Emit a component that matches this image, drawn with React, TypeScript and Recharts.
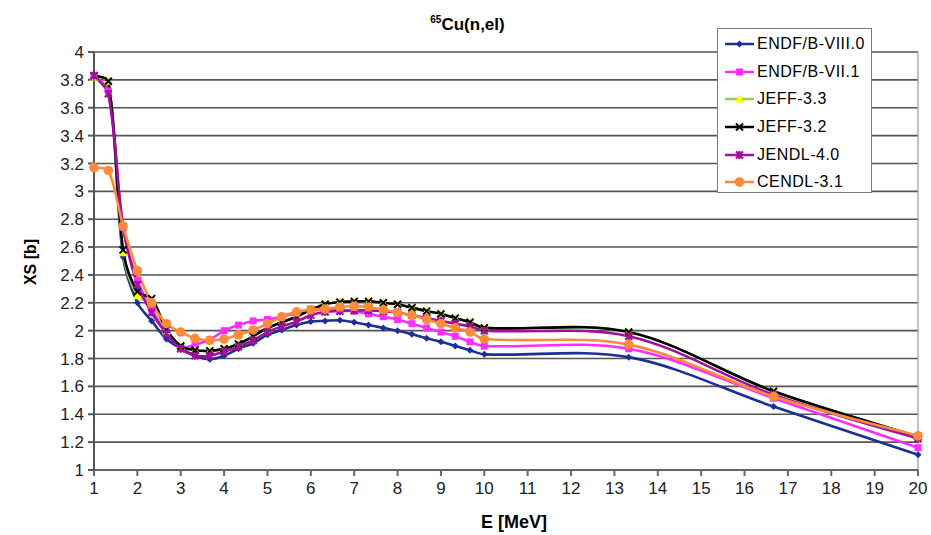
import React from 'react';
import { LineChart, Line, XAxis, YAxis, CartesianGrid, Legend, ReferenceLine } from 'recharts';

// incident energy [MeV]
const energies = [1, 1.33, 1.67, 2, 2.33, 2.67, 3, 3.33, 3.67, 4, 4.33, 4.67, 5, 5.33, 5.67, 6, 6.33, 6.67, 7, 7.33, 7.67, 8, 8.33, 8.67, 9, 9.33, 9.67, 10, 13.33, 16.67, 20];

// cross sections [b]
const endf80 = [3.83, 3.78, 2.53, 2.2, 2.07, 1.94, 1.875, 1.82, 1.795, 1.82, 1.87, 1.91, 1.97, 2.005, 2.04, 2.065, 2.07, 2.075, 2.06, 2.04, 2.02, 2.0, 1.975, 1.945, 1.92, 1.89, 1.86, 1.83, 1.81, 1.455, 1.11];
const endf71 = [3.83, 3.72, 2.74, 2.36, 2.15, 1.99, 1.88, 1.9, 1.935, 2.0, 2.04, 2.07, 2.08, 2.1, 2.125, 2.145, 2.15, 2.15, 2.14, 2.12, 2.1, 2.08, 2.05, 2.02, 1.99, 1.96, 1.92, 1.89, 1.87, 1.515, 1.16];
const jeff33 = [3.82, 3.79, 2.56, 2.25, 2.2, 2.0, 1.89, 1.86, 1.855, 1.87, 1.905, 1.96, 2.02, 2.06, 2.1, 2.15, 2.19, 2.205, 2.21, 2.21, 2.2, 2.19, 2.165, 2.14, 2.12, 2.09, 2.06, 2.02, 1.99, 1.565, 1.24];
const jeff32 = [3.83, 3.79, 2.58, 2.28, 2.23, 2.01, 1.89, 1.86, 1.855, 1.87, 1.905, 1.96, 2.02, 2.06, 2.1, 2.15, 2.19, 2.205, 2.21, 2.21, 2.2, 2.19, 2.165, 2.14, 2.12, 2.09, 2.06, 2.02, 1.99, 1.565, 1.24];
const jendl40 = [3.83, 3.7, 2.75, 2.33, 2.13, 1.98, 1.87, 1.82, 1.82, 1.85, 1.885, 1.93, 1.99, 2.03, 2.065, 2.11, 2.135, 2.14, 2.145, 2.145, 2.14, 2.13, 2.11, 2.09, 2.07, 2.05, 2.03, 2.0, 1.96, 1.54, 1.225];
const cendl31 = [3.17, 3.15, 2.75, 2.43, 2.2, 2.05, 1.99, 1.945, 1.93, 1.94, 1.97, 2.005, 2.05, 2.1, 2.135, 2.15, 2.155, 2.17, 2.175, 2.17, 2.15, 2.13, 2.11, 2.08, 2.05, 2.02, 1.99, 1.94, 1.9, 1.527, 1.245];

const xTicks = [1, 2, 3, 4, 5, 6, 7, 8, 9, 10, 11, 12, 13, 14, 15, 16, 17, 18, 19, 20];
const yTicks = [1, 1.2, 1.4, 1.6, 1.8, 2, 2.2, 2.4, 2.6, 2.8, 3, 3.2, 3.4, 3.6, 3.8, 4];

const data = energies.map((e, i) => ({
  e,
  endf80: endf80[i],
  endf71: endf71[i],
  jeff33: jeff33[i],
  jeff32: jeff32[i],
  jendl40: jendl40[i],
  cendl31: cendl31[i],
}));

const SERIES = [
  { key: 'endf80', name: 'ENDF/B-VIII.0', color: '#1b2f96', marker: 'diamond', fill: '#1b2f96' },
  { key: 'endf71', name: 'ENDF/B-VII.1', color: '#ff2cff', marker: 'square', fill: '#ff2cff' },
  { key: 'jeff33', name: 'JEFF-3.3', color: '#9bcf4a', marker: 'triangle', fill: '#ffff00' },
  { key: 'jeff32', name: 'JEFF-3.2', color: '#000000', marker: 'cross', fill: '#000000' },
  { key: 'jendl40', name: 'JENDL-4.0', color: '#a0109c', marker: 'star', fill: '#a0109c' },
  { key: 'cendl31', name: 'CENDL-3.1', color: '#fa8a3c', marker: 'circle', fill: '#fa8a3c' },
];

const TICK_FONT = '"Liberation Sans Narrow", "Liberation Sans", Arial, sans-serif';
const FONT = '"Liberation Sans", Arial, sans-serif';

// smoothed line like the spreadsheet one: chord-weighted Catmull-Rom as cubic Bezier
const excelCurve = (context: any) => {
  let pts: number[][] = [];
  const dist = (a: number[], b: number[]) => Math.hypot(b[0] - a[0], b[1] - a[1]) || 1e-6;
  return {
    areaStart() {},
    areaEnd() {},
    lineStart() {
      pts = [];
    },
    point(x: number, y: number) {
      pts.push([+x, +y]);
    },
    lineEnd() {
      const n = pts.length;
      if (!n) return;
      context.moveTo(pts[0][0], pts[0][1]);
      for (let i = 0; i < n - 1; i++) {
        const p0 = pts[i > 0 ? i - 1 : i];
        const p1 = pts[i];
        const p2 = pts[i + 1];
        const p3 = pts[i + 2 < n ? i + 2 : i + 1];
        const d0 = dist(p0, p1);
        const d1 = dist(p1, p2);
        const d2 = dist(p2, p3);
        const a = i > 0 ? d1 / (d0 + d1) / 3 : 1 / 6;
        const b = i + 2 < n ? d1 / (d1 + d2) / 3 : 1 / 6;
        context.bezierCurveTo(
          p1[0] + (p2[0] - p0[0]) * a,
          p1[1] + (p2[1] - p0[1]) * a,
          p2[0] - (p3[0] - p1[0]) * b,
          p2[1] - (p3[1] - p1[1]) * b,
          p2[0],
          p2[1]
        );
      }
    },
  };
};

const Marker = ({ kind, cx, cy, color, fill }: any) => {
  switch (kind) {
    case 'diamond':
      return <path d={`M${cx},${cy - 3.5}L${cx + 3.5},${cy}L${cx},${cy + 3.5}L${cx - 3.5},${cy}Z`} fill={fill} />;
    case 'square':
      return <rect x={cx - 3.5} y={cy - 3.5} width={7} height={7} fill={fill} />;
    case 'triangle':
      return <path d={`M${cx},${cy - 4.5}L${cx + 4.5},${cy + 3.5}L${cx - 4.5},${cy + 3.5}Z`} fill={fill} />;
    case 'cross':
      return (
        <path d={`M${cx - 3.5},${cy - 3.5}L${cx + 3.5},${cy + 3.5}M${cx + 3.5},${cy - 3.5}L${cx - 3.5},${cy + 3.5}`} stroke={color} strokeWidth={2} />
      );
    case 'star':
      return (
        <path
          d={`M${cx - 3.5},${cy - 3.5}L${cx + 3.5},${cy + 3.5}M${cx + 3.5},${cy - 3.5}L${cx - 3.5},${cy + 3.5}M${cx},${cy - 4}L${cx},${cy + 4}`}
          stroke={color}
          strokeWidth={2.2}
        />
      );
    default:
      return <circle cx={cx} cy={cy} r={4.8} fill={fill} />;
  }
};

const renderLegend = () => (
  <div
    style={{
      width: 155,
      height: 165,
      border: '1px solid #7a7a7a',
      background: '#fff',
      boxSizing: 'border-box',
      paddingTop: 1,
    }}
  >
    {SERIES.map((s) => (
      <div key={s.key} style={{ height: 27.7, display: 'flex', alignItems: 'center' }}>
        <svg width={36} height={14} style={{ marginLeft: 6 }}>
          <line x1={1} y1={7} x2={30} y2={7} stroke={s.color} strokeWidth={2.5} />
          <Marker kind={s.marker} cx={15.5} cy={7} color={s.color} fill={s.fill} />
        </svg>
        <span style={{ fontFamily: FONT, fontSize: 16, color: '#000', marginLeft: -3, letterSpacing: 0.5 }}>{s.name}</span>
      </div>
    ))}
  </div>
);

export default function App() {
  return (
    <div style={{ position: 'absolute', left: 0, top: 0, width: 931, height: 535, background: '#fff' }}>
      <LineChart width={931} height={535} data={data} margin={{ top: 52, right: 13, bottom: 0, left: 0 }}>
        <CartesianGrid vertical={false} stroke="#555" strokeWidth={1.6} />
        <ReferenceLine x={20} stroke="#9a9a9a" strokeWidth={1.2} />
        <XAxis
          dataKey="e"
          type="number"
          domain={[1, 20]}
          ticks={xTicks}
          interval={0}
          height={65}
          stroke="#666"
          strokeWidth={2}
          tickSize={6}
          tickMargin={6}
          tick={{ fontFamily: TICK_FONT, fontSize: 17, fill: '#222' }}
        />
        <YAxis
          type="number"
          domain={[1, 4]}
          ticks={yTicks}
          interval={0}
          width={94}
          stroke="#555"
          strokeWidth={2}
          tickSize={6}
          tickMargin={4}
          tickFormatter={(v: number) => String(+v.toFixed(1))}
          tick={{ fontFamily: TICK_FONT, fontSize: 17, fill: '#222' }}
        />
        <Legend
          layout="vertical"
          align="center"
          verticalAlign="middle"
          content={renderLegend}
          wrapperStyle={{ left: 717, top: 28, width: 156, height: 166 }}
        />
        {SERIES.map((s) => (
          <Line
            key={s.key}
            dataKey={s.key}
            name={s.name}
            type={excelCurve as any}
            stroke={s.color}
            strokeWidth={2.6}
            isAnimationActive={false}
            activeDot={false}
            dot={(p: any) => <Marker key={`${s.key}-${p.index}`} kind={s.marker} cx={p.cx} cy={p.cy} color={s.color} fill={s.fill} />}
          />
        ))}
      </LineChart>
      <div
        style={{
          position: 'absolute',
          left: 0,
          width: 931,
          top: 14,
          textAlign: 'center',
          fontFamily: TICK_FONT,
          fontWeight: 'bold',
          fontSize: 17,
          paddingLeft: 2,
        }}
      >
        <sup style={{ fontSize: 10 }}>65</sup>Cu(n,el)
      </div>
      <div
        style={{
          position: 'absolute',
          left: 31,
          top: 262,
          transform: 'translate(-50%, -50%) rotate(-90deg)',
          fontFamily: FONT,
          fontWeight: 'bold',
          fontSize: 16,
          whiteSpace: 'nowrap',
        }}
      >
        XS [b]
      </div>
      <div
        style={{
          position: 'absolute',
          left: 514,
          top: 522,
          transform: 'translate(-50%, -50%)',
          fontFamily: TICK_FONT,
          fontWeight: 'bold',
          fontSize: 18,
          whiteSpace: 'nowrap',
        }}
      >
        E [MeV]
      </div>
    </div>
  );
}
